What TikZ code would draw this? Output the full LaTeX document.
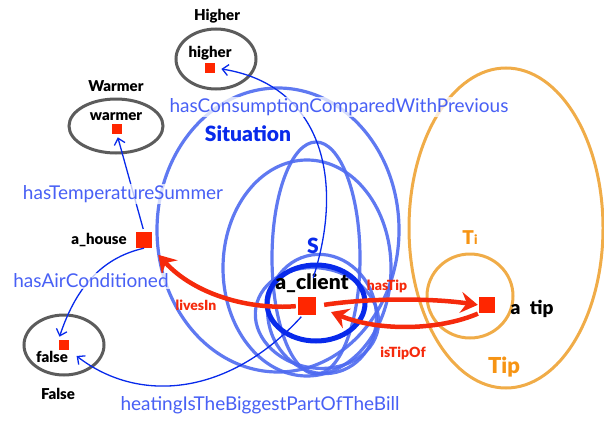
\documentclass[tikz,border=0pt]{standalone}
\usepackage{fontspec}
\setmainfont{Lato}[BoldFont={Lato Black}]
\usetikzlibrary{shapes,arrows.meta,decorations.pathmorphing,backgrounds,positioning,fit}

\definecolor{instred}{RGB}{255,38,0}
\definecolor{relred}{RGB}{245,42,12}
\definecolor{labelblue}{RGB}{72,96,245}
\definecolor{ringblue}{RGB}{78,106,240}
\definecolor{deepblue}{RGB}{8,42,235}
\definecolor{tipline}{RGB}{240,172,72}
\definecolor{tiptext}{RGB}{246,148,20}
\definecolor{setgray}{RGB}{92,92,92}

\begin{document}
\begin{tikzpicture}[x=1pt, y=-1pt]
				\tikzstyle{Inst} 	= [fill=instred, minimum size=16pt, inner sep=0pt]
				\tikzstyle{Val}		= [fill=instred, minimum size=10.5pt, inner sep=0pt]
				\tikzstyle{ValSet}	= [draw=setgray, line width=3pt, ellipse, inner sep=0pt]
				\tikzstyle{Ring}		= [draw=ringblue, line width=3.2pt, draw opacity=0.9]
				\tikzstyle{Core}		= [draw=deepblue, line width=5pt]
				\tikzstyle{TipSet}	= [draw=tipline, line width=3pt]
				\tikzstyle{Prop}		= [text=labelblue, font=\fontsize{19}{20}\selectfont, fill=white, fill opacity=0.75, text opacity=1, inner sep=1pt]
				\tikzstyle{Name}		= [font=\bfseries\fontsize{15}{16}\selectfont, inner sep=0pt]
				\tikzstyle{Rel}		= [text=relred, font=\bfseries\fontsize{14}{15}\selectfont, inner sep=0pt]
				\tikzstyle{BlueLink}	= [draw=deepblue, line width=1.3pt, -{Straight Barb[length=6pt,width=11pt]}]
				\tikzstyle{RedLink}	= [draw=relred, line width=4.5pt, -{Stealth[length=17pt,width=21pt,inset=6pt]}]

				\useasboundingbox (0,0) rectangle (604,420);

				\draw [Ring] (278,230) ellipse [x radius=121pt, y radius=142pt];
				\draw [Ring] (307,268) ellipse [x radius=84pt, y radius=108pt];
				\draw [Ring] (316,258) ellipse [x radius=44pt, y radius=116pt];
				\draw [Ring] (317,318) ellipse [x radius=62pt, y radius=50pt, rotate=-10];
				\draw [Ring] (322,314) ellipse [x radius=54pt, y radius=60pt, rotate=15];
				\draw [Core] (316,303) ellipse [x radius=49pt, y radius=38pt];

				\draw [TipSet] (506,228) ellipse [x radius=97pt, y radius=160pt];
				\draw [TipSet] (470,296) ellipse [x radius=43pt, y radius=42pt];

				\node (hiset) at (216, 59) [ValSet, minimum width=80pt, minimum height=60pt] {};
				\node (waset) at (116, 126) [ValSet, minimum width=94pt, minimum height=54pt] {};
				\node (faset) at (64, 345) [ValSet, minimum width=80pt, minimum height=60pt] {};

				\node (hicls) at (217, 16) [Name] {Higher};
				\node (hilbl) at (210, 53) [Name] {higher};
				\node (hisq) at (210, 68) [Val] {};
				\node (wacls) at (116, 86) [Name] {Warmer};
				\node (walbl) at (116, 117) [Name] {warmer};
				\node (wasq) at (117, 129) [Val] {};
				\node (facls) at (58, 394) [Name] {False};
				\node (falbl) at (52, 357) [Name] {false};
				\node (fasq) at (64, 345) [Val] {};

				\node (house) at (144, 240) [Inst] {};
				\node (houselbl) at (99, 240) [Name] {a\_house};
				\node (client) at (307, 306) [Inst, minimum size=18pt] {};
				\node (clientlbl) at (312, 283) [Name, font=\bfseries\fontsize{21}{22}\selectfont] {a\_client};
				\node (tip) at (487, 305) [Inst] {};
				\node (tiplbl) at (532, 309) [Name, font=\bfseries\fontsize{19}{20}\selectfont] {a\enspace tip};

				\node (sitlbl) at (248, 134) [Name, text=deepblue, font=\bfseries\fontsize{21}{22}\selectfont] {Situation};
				\node (slbl) at (313, 246) [Name, text=deepblue, font=\bfseries\fontsize{21}{22}\selectfont] {S};
				\node (tilbl) at (470, 238) [Name, text=tiptext, font=\bfseries\fontsize{19}{20}\selectfont] {T{\fontsize{13}{13}\selectfont i}};
				\node (tipcls) at (504, 367) [Name, text=tiptext, font=\bfseries\fontsize{22}{23}\selectfont] {Tip};

				\draw (client.north) .. controls (345,180) and (322,85) .. (hisq.east) [BlueLink, shorten <=20pt, shorten >=6pt];
				\draw (house.north) -- (wasq.south) [BlueLink, shorten <=3pt, shorten >=3pt];
				\draw (house.south) .. controls (100,258) and (75,290) .. (fasq.north west) [BlueLink, shorten >=3pt];
				\draw (client.-115) .. controls (230,395) and (140,405) .. (fasq.south east) [BlueLink, shorten <=2pt, shorten >=9pt];

				\draw (client.west) .. controls (250,310) and (195,295) .. (house.south east) [RedLink, shorten <=2pt, shorten >=9pt];
				\draw (client.east) .. controls (370,298) and (430,298) .. (tip.west) [RedLink, shorten <=8pt, shorten >=1pt];
				\draw (tip.south west) .. controls (440,330) and (380,332) .. (client.east) [RedLink, shorten <=1pt, shorten >=16pt];

				\node (conslbl) at (339, 107) [Prop] {hasConsumptionComparedWithPrevious};
				\node (templbl) at (123, 194) [Prop] {hasTemperatureSummer};
				\node (airlbl) at (91, 281) [Prop] {hasAirConditioned};
				\node (heatlbl) at (260, 405) [Prop] {heatingIsTheBiggestPartOfTheBill};

				\node (liveslbl) at (196, 305) [Rel] {livesIn};
				\node (haslbl) at (387, 286) [Rel] {hasTip};
				\node (oflbl) at (403, 353) [Rel] {isTipOf};
			\end{tikzpicture}
\end{document}
